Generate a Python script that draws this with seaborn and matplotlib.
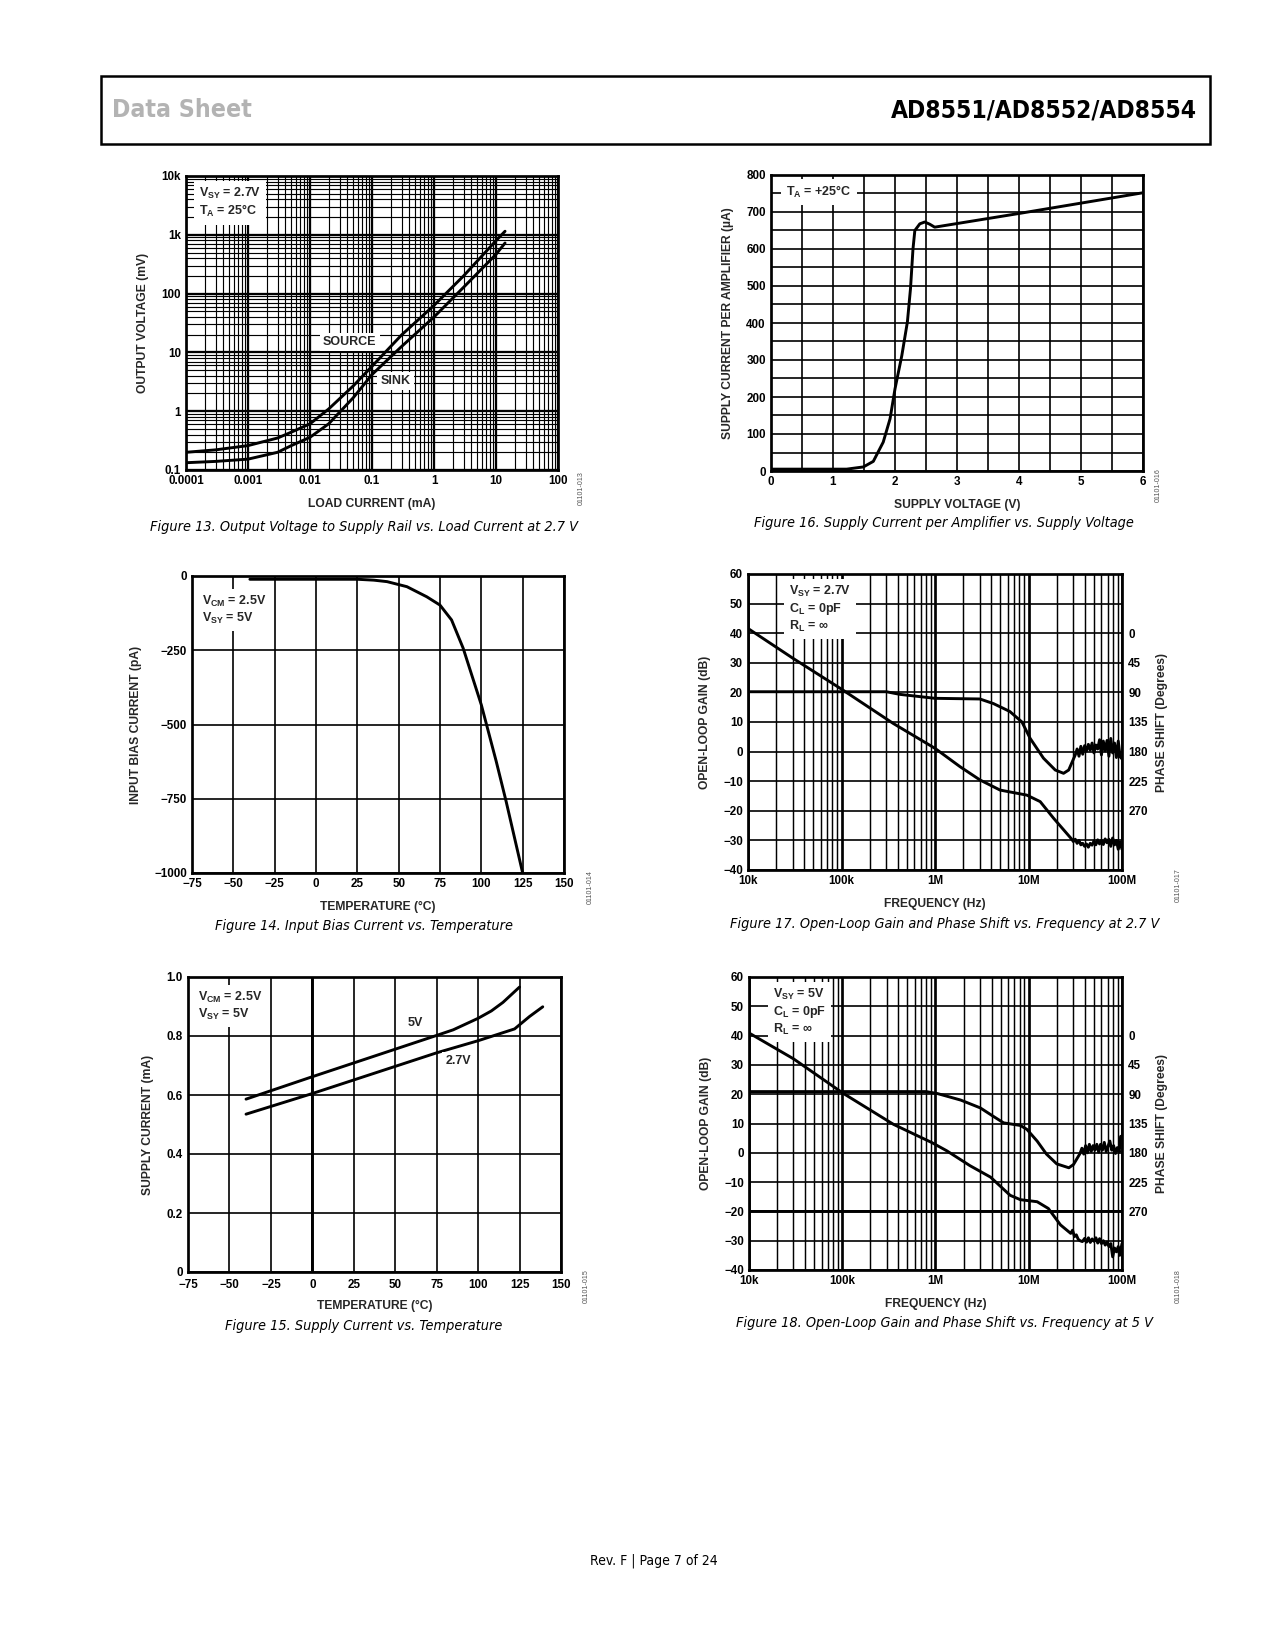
import numpy as np
import matplotlib
matplotlib.use("Agg")
import matplotlib.pyplot as plt
import matplotlib.ticker as mticker
from matplotlib import font_manager as fm
from matplotlib.patches import Rectangle
import seaborn as sns

# ---------------- data ----------------
# Figure 13: output voltage to rail vs load current (log-log)
load_ma = [1e-4, 3e-4, 1e-3, 3e-3, 5e-3, 0.01, 0.02, 0.05, 0.1, 0.3, 1, 3, 10, 14]
source_mv = [0.20, 0.22, 0.26, 0.35, 0.44, 0.61, 1.09, 2.7, 5.8, 19.8, 63, 200, 795, 1150]
sink_mv = [0.133, 0.14, 0.153, 0.20, 0.26, 0.36, 0.61, 1.7, 4.2, 12.6, 40, 128, 465, 725]

# Figure 14: input bias current vs temperature
temp_ib = [-40, 25, 35, 43, 55, 67, 75, 82, 89, 100, 109, 115, 125]
bias_pa = [-11, -11, -14, -19, -36, -70, -98, -148, -243, -434, -624, -759, -1000]

# Figure 15: supply current vs temperature
temp_5v = [-40, 0, 75, 85, 100, 108, 115, 125]
isy_5v = [0.586, 0.662, 0.802, 0.821, 0.860, 0.885, 0.914, 0.966]
temp_27v = [-40, 0, 75, 100, 122, 131, 139]
isy_27v = [0.535, 0.605, 0.743, 0.784, 0.824, 0.866, 0.899]

# Figure 16: supply current per amplifier vs supply voltage
vsy = [0, 1.22, 1.49, 1.65, 1.81, 1.92, 2.0, 2.11, 2.2, 2.25, 2.29, 2.32, 2.40, 2.48, 2.56, 2.64, 4.0, 6.0]
isy_ua = [5, 5, 11, 26, 78, 141, 222, 312, 403, 493, 600, 650, 668, 673, 667, 659, 696, 752]

# Figure 17: open-loop gain / phase at 2.7 V (frequency given in decades, log10 Hz)
g17_dec = [4.0, 4.482, 5.0, 5.554, 6.0, 6.268, 6.482, 6.696, 6.982, 7.125, 7.268, 7.46,
           7.48, 7.50, 7.52, 7.54, 7.56, 7.58, 7.60, 7.62, 7.64, 7.66, 7.68, 7.70, 7.72,
           7.74, 7.76, 7.78, 7.80, 7.82, 7.84, 7.86, 7.88, 7.90, 7.92, 7.94, 7.96, 7.98, 8.0]
g17_db = [41.6, 31.5, 21.1, 9.5, 1.1, -5.1, -9.6, -13.0, -14.7, -16.9, -22.5, -29.5,
          -30.4, -29.6, -31.0, -30.0, -31.5, -31.0, -32.0, -31.2, -32.3, -31.0, -31.6, -30.2, -31.5,
          -29.8, -31.2, -30.0, -31.4, -29.5, -30.8, -29.6, -32.0, -29.2, -31.5, -30.0, -33.0, -30.5, -33.0]
p17_dec = [4.0, 5.48, 5.625, 6.0, 6.48, 6.625, 6.80, 6.93, 7.018, 7.16, 7.286, 7.375, 7.43, 7.5,
           7.52, 7.54, 7.56, 7.58, 7.60, 7.62, 7.64, 7.66, 7.68, 7.70, 7.72, 7.74, 7.76,
           7.78, 7.80, 7.82, 7.84, 7.86, 7.88, 7.90, 7.92, 7.94, 7.96, 7.98, 8.0]
p17_deg = [89, 89, 93, 99, 100, 107, 119, 135, 160, 190, 208, 213, 208, 185,
           176, 187, 172, 184, 171, 179, 169, 178, 167, 182, 170, 176, 162,
           185, 164, 179, 163, 187, 160, 182, 167, 189, 164, 188, 191]

# Figure 18: open-loop gain / phase at 5 V
g18_dec = [4.0, 4.476, 5.01, 5.55, 5.96, 6.12, 6.37, 6.59, 6.80, 6.91, 7.09, 7.21, 7.34,
           7.45, 7.47, 7.49, 7.51, 7.53, 7.55, 7.575, 7.60, 7.62, 7.64, 7.66, 7.68, 7.70, 7.72,
           7.74, 7.76, 7.78, 7.80, 7.82, 7.84, 7.86, 7.88, 7.90, 7.92, 7.94, 7.96, 7.975, 8.0]
g18_db = [40.9, 32.1, 20.3, 9.7, 3.5, 0.7, -4.4, -8.3, -14.5, -16.0, -16.7, -19.0, -24.6,
          -27.5, -26.4, -28.6, -28.0, -29.5, -30.0, -30.3, -29.2, -30.5, -29.0, -30.6, -29.4, -30.2, -29.0,
          -30.8, -29.3, -31.0, -30.0, -31.5, -30.5, -32.0, -31.0, -35.5, -32.5, -33.8, -32.0, -35.0, -31.0]
p18_dec = [4.0, 5.9, 6.02, 6.27, 6.48, 6.62, 6.73, 6.91, 6.98, 7.09, 7.19, 7.30, 7.43, 7.48, 7.55,
           7.57, 7.59, 7.61, 7.63, 7.65, 7.67, 7.69, 7.71, 7.73, 7.75, 7.77, 7.79, 7.81, 7.83,
           7.85, 7.87, 7.89, 7.91, 7.93, 7.95, 7.97, 7.985, 8.0]
p18_deg = [86, 86, 89, 99, 111, 124, 134, 138, 144, 162, 182, 197, 203, 198, 181,
           173, 182, 169, 180, 167, 178, 169, 176, 167, 179, 167, 176, 164, 178,
           170, 162, 176, 169, 181, 172, 179, 155, 154]

freq_ticks = [1e4, 1e5, 1e6, 1e7, 1e8]
freq_labels = ['10k', '100k', '1M', '10M', '100M']
phase_ticks = [0, 45, 90, 135, 180, 225, 270]

# ---------------- style ----------------
sns.set_theme(style="white")
plt.rcParams['font.family'] = ['Liberation Sans', 'DejaVu Sans']
plt.rcParams['font.weight'] = 'bold'
plt.rcParams['axes.labelweight'] = 'bold'
plt.rcParams['mathtext.fontset'] = 'custom'
plt.rcParams['mathtext.rm'] = 'Liberation Sans:bold'
plt.rcParams['mathtext.bf'] = 'Liberation Sans:bold'
plt.rcParams['mathtext.it'] = 'Liberation Sans:bold'

W, H = 1275, 1650
fig = plt.figure(figsize=(8.5, 11), dpi=150)
fig.patch.set_facecolor('white')

TICK = 5.6
LAB = 5.8
NOTE = 6.0
LW = 1.4


def rect(x0, y0, x1, y1):
    return [x0 / W, 1 - y1 / H, (x1 - x0) / W, (y1 - y0) / H]


def base_style(ax):
    for s in ax.spines.values():
        s.set_visible(True)
        s.set_color('black')
        s.set_linewidth(1.3)
    ax.tick_params(which='both', length=0, pad=2.5, labelsize=TICK, colors='black')
    ax.set_facecolor('white')


def note(ax, x, y, s, **kw):
    ax.text(x, y, s, transform=ax.transAxes, fontsize=NOTE, va='top', ha='left',
            linespacing=1.15, zorder=10,
            bbox=dict(fc='white', ec='none', pad=2.5), **kw)


def curve(ax, x, y):
    sns.lineplot(x=x, y=y, ax=ax, color='black', lw=LW, estimator=None, sort=False)


# condensed faces for the page furniture, if the system has any
def _w(f):
    w = f.weight
    if isinstance(w, str):
        w = fm.weight_dict.get(w, 400)
    return w


def pick_font(bold, italic):
    for f in fm.fontManager.ttflist:
        narrow = ('Narrow' in f.name or 'Condensed' in f.name
                  or f.stretch in ('condensed', 'semi-condensed', 'extra-condensed'))
        if not narrow:
            continue
        if (_w(f) >= 600) != bold:
            continue
        if (f.style in ('italic', 'oblique')) != italic:
            continue
        return fm.FontProperties(fname=f.fname)
    return fm.FontProperties(family='Liberation Sans',
                             weight='bold' if bold else 'normal',
                             style='italic' if italic else 'normal')


renderer = fig.canvas.get_renderer()


def page_text(x, y, s, fp, size, width, **kw):
    fp = fp.copy()
    fp.set_size(size)
    t = fig.text(x / W, 1 - y / H, s, fontproperties=fp, **kw)
    w = t.get_window_extent(renderer=renderer).width
    if w > 0 and width:
        fp.set_size(size * width / w)
        t.set_fontproperties(fp)
    return t


# ---------------- Figure 13 ----------------
ax = fig.add_axes(rect(186, 176, 558, 470))
curve(ax, load_ma, source_mv)
curve(ax, load_ma, sink_mv)
ax.set_xscale('log')
ax.set_yscale('log')
ax.set_xlim(1e-4, 100)
ax.set_ylim(0.1, 1e4)
ax.set_xticks([1e-4, 1e-3, 1e-2, 0.1, 1, 10, 100])
ax.set_xticklabels(['0.0001', '0.001', '0.01', '0.1', '1', '10', '100'])
ax.set_yticks([0.1, 1, 10, 100, 1000, 10000])
ax.set_yticklabels(['0.1', '1', '10', '100', '1k', '10k'])
for axis in (ax.xaxis, ax.yaxis):
    axis.set_minor_locator(mticker.LogLocator(base=10, subs=np.arange(2, 10), numticks=100))
    axis.set_minor_formatter(mticker.NullFormatter())
ax.grid(which='major', color='black', lw=1.1)
ax.grid(which='minor', color='black', lw=0.55)
base_style(ax)
ax.set_xlabel('LOAD CURRENT (mA)', fontsize=LAB, labelpad=5)
ax.set_ylabel('OUTPUT VOLTAGE (mV)', fontsize=LAB, labelpad=6)
note(ax, 0.035, 0.965, 'V$_\\mathbf{SY}$ = 2.7V\nT$_\\mathbf{A}$ = 25\u00b0C')
ax.text(0.0436, 15.2, 'SOURCE', fontsize=NOTE, ha='center', va='center', zorder=10,
        bbox=dict(fc='white', ec='none', pad=1.5))
ax.text(0.24, 3.3, 'SINK', fontsize=NOTE, ha='center', va='center', zorder=10,
        bbox=dict(fc='white', ec='none', pad=1.5))

# ---------------- Figure 16 ----------------
ax = fig.add_axes(rect(771, 175, 1143, 471))
curve(ax, vsy, isy_ua)
ax.set_xlim(0, 6)
ax.set_ylim(0, 800)
ax.set_xticks(range(0, 7))
ax.set_yticks(range(0, 801, 100))
ax.xaxis.set_minor_locator(mticker.MultipleLocator(0.5))
ax.yaxis.set_minor_locator(mticker.MultipleLocator(50))
ax.grid(which='both', color='black', lw=0.8)
base_style(ax)
ax.set_xlabel('SUPPLY VOLTAGE (V)', fontsize=LAB, labelpad=5)
ax.set_ylabel('SUPPLY CURRENT PER AMPLIFIER (\u00b5A)', fontsize=LAB, labelpad=6)
note(ax, 0.04, 0.97, 'T$_\\mathbf{A}$ = +25\u00b0C')

# ---------------- Figure 14 ----------------
ax = fig.add_axes(rect(192, 576, 564, 873))
curve(ax, temp_ib, bias_pa)
ax.set_xlim(-75, 150)
ax.set_ylim(-1000, 0)
ax.set_xticks(range(-75, 151, 25))
ax.set_yticks([0, -250, -500, -750, -1000])
ax.grid(which='major', color='black', lw=0.8)
base_style(ax)
ax.set_xlabel('TEMPERATURE (\u00b0C)', fontsize=LAB, labelpad=5)
ax.set_ylabel('INPUT BIAS CURRENT (pA)', fontsize=LAB, labelpad=6)
note(ax, 0.027, 0.94, 'V$_\\mathbf{CM}$ = 2.5V\nV$_\\mathbf{SY}$ = 5V')

# ---------------- Figure 15 ----------------
ax = fig.add_axes(rect(188, 977, 561, 1272))
curve(ax, temp_5v, isy_5v)
curve(ax, temp_27v, isy_27v)
ax.set_xlim(-75, 150)
ax.set_ylim(0, 1.0)
ax.set_xticks(range(-75, 151, 25))
ax.set_yticks([0, 0.2, 0.4, 0.6, 0.8, 1.0])
ax.set_yticklabels(['0', '0.2', '0.4', '0.6', '0.8', '1.0'])
ax.grid(which='major', color='black', lw=0.8)
ax.axvline(0, color='black', lw=1.4, zorder=1)
base_style(ax)
ax.tick_params(axis='x', pad=3.5)
ax.set_xlabel('TEMPERATURE (\u00b0C)', fontsize=LAB, labelpad=4)
ax.set_ylabel('SUPPLY CURRENT (mA)', fontsize=LAB, labelpad=6)
note(ax, 0.027, 0.955, 'V$_\\mathbf{CM}$ = 2.5V\nV$_\\mathbf{SY}$ = 5V')
ax.text(62, 0.845, '5V', fontsize=NOTE, ha='center', va='center', zorder=10,
        bbox=dict(fc='white', ec='none', pad=1.5))
ax.text(88, 0.715, '2.7V', fontsize=NOTE, ha='center', va='center', zorder=10,
        bbox=dict(fc='white', ec='none', pad=1.5))


# ---------------- Figures 17 and 18 ----------------
def bode(r, g_dec, g_db, p_dec, p_deg, label, thick_m20=False):
    ax = fig.add_axes(r)
    curve(ax, 10 ** np.array(g_dec), g_db)
    ax.set_xscale('log')
    ax.set_xlim(1e4, 1e8)
    ax.set_ylim(-40, 60)
    ax.set_yticks(range(-40, 61, 10))
    ax.grid(which='major', axis='y', color='black', lw=0.8)
    if thick_m20:
        ax.axhline(-20, color='black', lw=1.4, zorder=1)
    base_style(ax)
    ax.set_ylabel('OPEN-LOOP GAIN (dB)', fontsize=LAB, labelpad=6)
    note(ax, label[0], label[1], label[2])

    tw = ax.twinx()
    curve(tw, 10 ** np.array(p_dec), p_deg)
    tw.set_ylim(360, -90)
    tw.set_yticks(phase_ticks)
    tw.grid(False)
    for s in tw.spines.values():
        s.set_visible(False)
    tw.tick_params(length=0, pad=3, labelsize=TICK, colors='black')
    tw.set_ylabel('PHASE SHIFT (Degrees)', fontsize=LAB, labelpad=4)

    # x axis is shared with the twin, so fix ticks/format after creating it
    ax.set_xlim(1e4, 1e8)
    ax.xaxis.set_major_locator(mticker.FixedLocator(freq_ticks))
    ax.xaxis.set_major_formatter(mticker.FixedFormatter(freq_labels))
    ax.xaxis.set_minor_locator(mticker.LogLocator(base=10, subs=np.arange(2, 10), numticks=100))
    ax.xaxis.set_minor_formatter(mticker.NullFormatter())
    ax.grid(which='major', axis='x', color='black', lw=1.3)
    ax.grid(which='minor', axis='x', color='black', lw=0.7)
    ax.set_xlabel('FREQUENCY (Hz)', fontsize=LAB, labelpad=5)
    return ax


bode(rect(748, 574, 1122, 870), g17_dec, g17_db, p17_dec, p17_deg,
     (0.11, 0.965, 'V$_\\mathbf{SY}$ = 2.7V\nC$_\\mathbf{L}$ = 0pF\nR$_\\mathbf{L}$ = \u221e'))
bode(rect(749, 977, 1122, 1270), g18_dec, g18_db, p18_dec, p18_deg,
     (0.065, 0.965, 'V$_\\mathbf{SY}$ = 5V\nC$_\\mathbf{L}$ = 0pF\nR$_\\mathbf{L}$ = \u221e'),
     thick_m20=True)

# ---------------- page furniture ----------------
fig.add_artist(Rectangle((101 / W, 1 - 144 / H), (1210 - 101) / W, (144 - 76) / H,
                         transform=fig.transFigure, fill=False, ec='black', lw=1.2))
head_fp = pick_font(True, False)
cap_fp = pick_font(False, True)
body_fp = pick_font(False, False)

page_text(112, 110, 'Data Sheet', head_fp, 18, 140, color='#b3b3b3', ha='left', va='center')
page_text(1197, 110, 'AD8551/AD8552/AD8554', head_fp, 18, 307, color='black',
          ha='right', va='center')

captions = [
    (364, 527, 'Figure 13. Output Voltage to Supply Rail vs. Load Current at 2.7 V', 425),
    (364, 926, 'Figure 14. Input Bias Current vs. Temperature', 296),
    (364, 1326, 'Figure 15. Supply Current vs. Temperature', 275),
    (944, 523, 'Figure 16. Supply Current per Amplifier vs. Supply Voltage', 377),
    (945, 924, 'Figure 17. Open-Loop Gain and Phase Shift vs. Frequency at 2.7 V', 426),
    (945, 1323, 'Figure 18. Open-Loop Gain and Phase Shift vs. Frequency at 5 V', 414),
]
for cx, cy, s, wd in captions:
    page_text(cx, cy, s, cap_fp, 7.4, wd, ha='center', va='center', color='black')

ids = [(581, 488, '01101-013'), (590, 887, '01101-014'), (586, 1286, '01101-015'),
       (1158, 485, '01101-016'), (1178, 885, '01101-017'), (1178, 1286, '01101-018')]
for ix, iy, s in ids:
    fig.text(ix / W, 1 - iy / H, s, fontsize=3.4, fontweight='normal', color='#555555',
             rotation=90, ha='center', va='center')

page_text(654, 1561, 'Rev. F | Page 7 of 24', body_fp, 7, 128, ha='center', va='center',
          color='black')

fig.savefig('out.png', dpi=150, facecolor='white')
